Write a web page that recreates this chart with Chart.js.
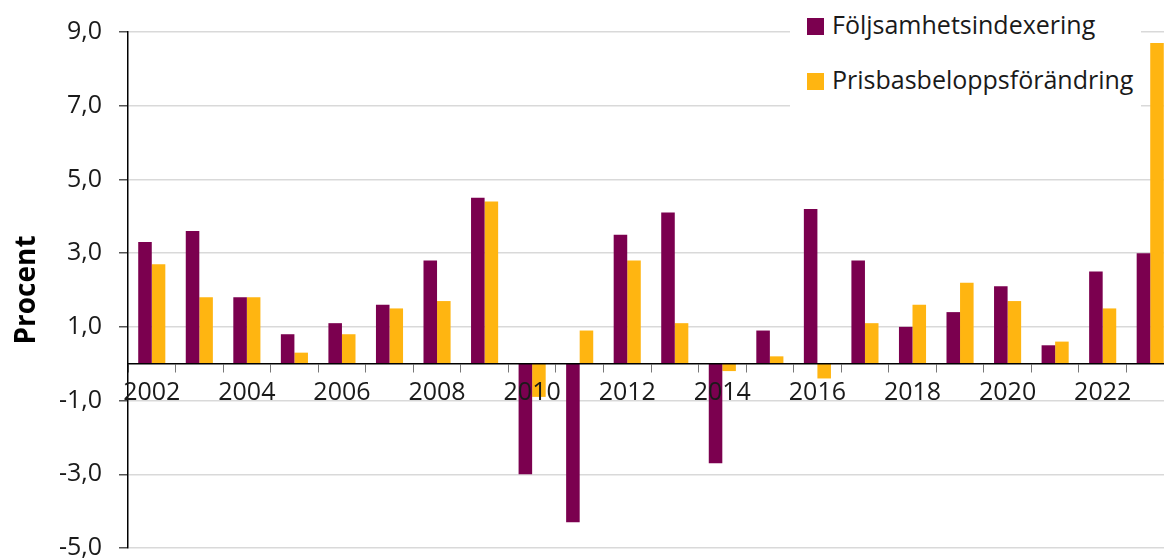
<!DOCTYPE html>
<html>
<head>
<meta charset="utf-8">
<script src="https://cdn.jsdelivr.net/npm/chart.js@4"></script>
<style>
  html, body { margin: 0; padding: 0; overflow: hidden; background: #fff; }
  #wrap { position: relative; width: 1174px; height: 580px; }
  #legend {
    position: absolute; left: 790px; top: 0; width: 351px; height: 112px;
    background: #fff; font-family: "Open Sans", sans-serif; font-size: 25px; color: #1a1a1a;
  }
  .item { position: absolute; left: 17px; height: 30px; line-height: 30px; white-space: nowrap; }
  .item span.box { display: inline-block; width: 17px; height: 17px; margin-right: 8px; vertical-align: -1px; }
</style>
</head>
<body>
<div id="wrap">
  <canvas id="chart" width="1174" height="580"></canvas>
  <div id="legend"></div>
</div>
<script>
const years = ['2002', '2003', '2004', '2005', '2006', '2007', '2008', '2009', '2010', '2011', '2012',
               '2013', '2014', '2015', '2016', '2017', '2018', '2019', '2020', '2021', '2022', '2023'];
const foljsamhet = [3.3, 3.6, 1.8, 0.8, 1.1, 1.6, 2.8, 4.5, -3.0, -4.3, 3.5,
                    4.1, -2.7, 0.9, 4.2, 2.8, 1.0, 1.4, 2.1, 0.5, 2.5, 3.0];
const prisbasbelopp = [2.7, 1.8, 1.8, 0.3, 0.8, 1.5, 1.7, 4.4, -0.9, 0.9, 2.8,
                       1.1, -0.2, 0.2, -0.4, 1.1, 1.6, 2.2, 1.7, 0.6, 1.5, 8.7];
const yTicks = [-5, -3, -1, 1, 3, 5, 7, 9];

const purple = '#7b004f';
const yellow = '#ffb511';

// legend drawn as html on a white box, as in the original
const legendItems = [['Följsamhetsindexering', purple, 9], ['Prisbasbeloppsförändring', yellow, 64]];
const legend = document.getElementById('legend');
legendItems.forEach(([label, color, top]) => {
    const div = document.createElement('div');
    div.className = 'item';
    div.style.top = top + 'px';
    div.innerHTML = '<span class="box" style="background:' + color + '"></span>' + label;
    legend.appendChild(div);
});

const font = { family: '"Open Sans", sans-serif', size: 25 };

new Chart(document.getElementById('chart').getContext('2d'), {
    type: 'bar',
    data: {
        labels: years,
        datasets: [
            { label: 'Följsamhetsindexering', data: foljsamhet, backgroundColor: purple },
            { label: 'Prisbasbeloppsförändring', data: prisbasbelopp, backgroundColor: yellow }
        ]
    },
    options: {
        responsive: false,
        animation: false,
        layout: { padding: { top: 20, right: 0, bottom: 0, left: 0 } },
        plugins: { legend: { display: false }, tooltip: { enabled: false } },
        datasets: { bar: { categoryPercentage: 0.57, barPercentage: 1 } },
        scales: {
            x: {
                position: { y: 0 },
                grid: { drawOnChartArea: false, drawTicks: true, tickLength: 8, tickColor: '#777', offset: true },
                border: { color: '#000', width: 1.5, z: 1 },
                ticks: {
                    z: 1, // year labels sit on top of the bars
                    autoSkip: false, maxRotation: 0, padding: 6, color: '#1a1a1a', font: font,
                    callback: function (v, i) { return i % 2 === 0 ? years[i] : ''; }
                }
            },
            y: {
                min: -5, max: 9,
                afterBuildTicks: function (scale) { scale.ticks = yTicks.map(v => ({ value: v })); },
                afterFit: function (scale) { scale.width = 128; },
                grid: { color: '#d9d9d9', lineWidth: 1.5, tickColor: '#555', tickLength: 9 },
                border: { color: '#000', width: 1.5 },
                ticks: {
                    padding: 17, color: '#1a1a1a', font: font,
                    callback: function (v) { return v.toFixed(1).replace('.', ','); }
                },
                title: {
                    display: true, text: 'Procent', color: '#000',
                    font: { family: '"Open Sans", sans-serif', size: 28, weight: 'bold' },
                    padding: { top: 10, bottom: 0 }
                }
            }
        }
    }
});
</script>
</body>
</html>
